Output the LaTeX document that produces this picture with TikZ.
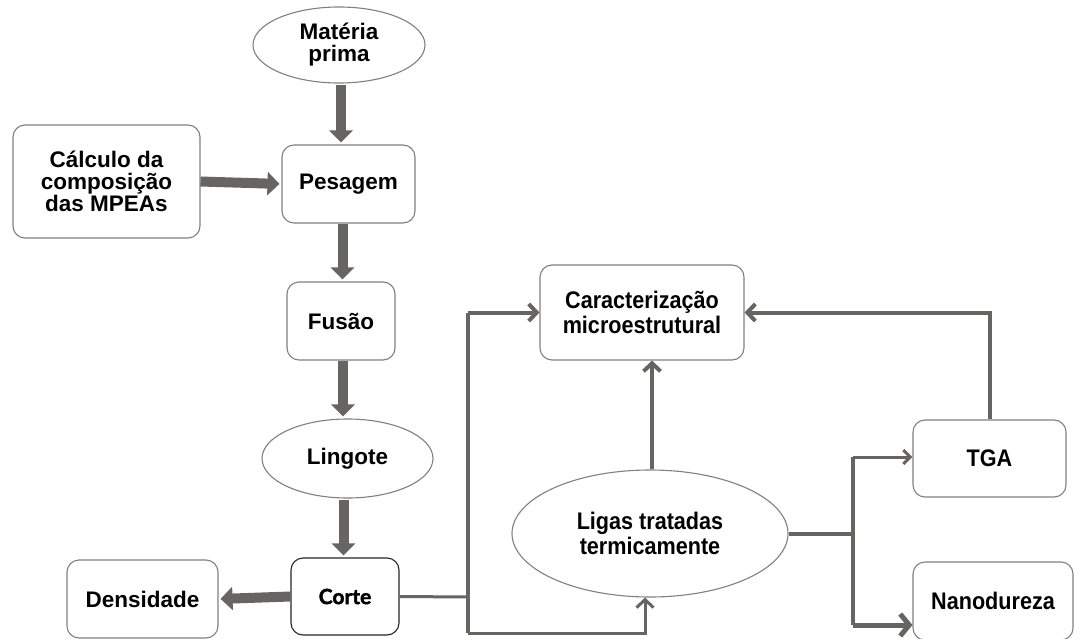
\documentclass[tikz,border=0pt]{standalone}
\usepackage{fontspec}
\setmainfont{Liberation Sans}
\newfontfamily\narrowfont{Liberation Sans}[FakeStretch=0.9]
\newfontfamily\cortefont{Lato}[BoldFeatures={FakeBold=2}]
\usetikzlibrary{arrows.meta,shapes.geometric,calc}
\definecolor{arr}{RGB}{103,100,100}
\definecolor{bord}{RGB}{128,128,128}
\tikzset{
  box/.style={draw=bord, line width=1.1pt, rounded corners=12pt, fill=white, align=center,
    inner sep=0pt, font=\fontsize{22.5}{22}\selectfont\bfseries},
  oval/.style={ellipse, draw=bord, line width=1.1pt, fill=white, align=center, inner sep=0pt,
    font=\fontsize{22.5}{22}\selectfont\bfseries},
  narrowtxt/.style={font=\narrowfont\fontsize{24}{25}\selectfont\bfseries},
  blockarrow/.style={draw=arr, line width=10pt, -{Triangle[width=23pt,length=12pt]}, fill=arr, shorten >=2pt},
  conn/.style={draw=arr, line width=3.5pt},
  barb/.style={draw=arr, line width=#1, -{Straight Barb[length=8pt,width=17pt]}},
  barb/.default=4pt
}
\begin{document}
\begin{tikzpicture}[x=1pt,y=-1pt]
\useasboundingbox (0,0) rectangle (1075,639);
\fill[white] (0,0) rectangle (1075,639);
% nodes
\node[oval, minimum width=172pt, minimum height=76pt] (mat) at (339,45) {Matéria\\prima};
\node[box, minimum width=187pt, minimum height=113pt] (calc) at (106.5,181.5) {Cálculo da\\composição\\das MPEAs};
\node[box, minimum width=133pt, minimum height=78pt] (pes) at (348.5,184) {Pesagem};
\node[box, minimum width=108pt, minimum height=78pt] (fus) at (341,321) {Fusão};
\node[oval, minimum width=171pt, minimum height=79pt] (lin) at (347.5,458.5) {Lingote};
\node[box, draw=black!85, minimum width=108pt, minimum height=77pt, font=\cortefont\fontsize{21}{22}\selectfont\bfseries] (cor) at (345,596.5) {Corte};
\node[box, minimum width=151pt, minimum height=78pt] (den) at (142.5,599) {Densidade};
\node[box, narrowtxt, minimum width=204pt, minimum height=95pt] (car) at (642,312.5) {Caracterização\\microestrutural};
\node[oval, narrowtxt, minimum width=276pt, minimum height=127pt] (lig) at (650,533.5) {Ligas tratadas\\termicamente};
\node[box, narrowtxt, minimum width=153pt, minimum height=77pt] (tga) at (989.5,458.5) {TGA};
\node[box, narrowtxt, minimum width=160pt, minimum height=78pt] (nan) at (993,601) {Nanodureza};
% arrow start points
\path (mat.south) ++(2,1) coordinate (a1);
\path (pes.south) ++(-6,0) coordinate (a2);
\path (fus.south) ++(2,0) coordinate (a3);
\path (lin.south) ++(-4,1) coordinate (a4);
% block arrows
\draw[blockarrow] (a1) -- (a1 |- pes.north);
\draw[blockarrow] (calc.east) -- (pes.west);
\draw[blockarrow] (a2) -- (a2 |- fus.north);
\draw[blockarrow] (a3) -- (a3 |- lin.north);
\draw[blockarrow] (a4) -- (a4 |- cor.north);
\draw[blockarrow] (cor.west) -- (den.east);
% connectors from Corte
\coordinate (j1) at (468,597);
\coordinate (j1t) at (468,312.5);
\coordinate (j1b) at (468,633);
\path (lig.south) ++(-5,0) coordinate (ls);
\path (lig.north) ++(2,0) coordinate (ln);
\draw[conn, line width=3pt] (cor.east) -- (j1);
\draw[conn] (j1t) -- (j1b);
\draw[barb] (j1t) -- (car.west);
\draw[barb=3pt] (j1b) -| (ls);
% Ligas to Caracterizacao
\draw[barb] (ln) -- (ln |- car.south);
% TGA to Caracterizacao
\draw[barb] (tga.north) |- (car.east);
% branch from Ligas
\coordinate (j3) at (853,533.5);
\coordinate (j3t) at (853,457);
\coordinate (j3b) at (853,625);
\draw[conn, line width=4pt] (lig.east) -- (j3);
\draw[conn, line width=4pt] (j3t) -- (j3b);
\draw[draw=arr, line width=3pt, -{Straight Barb[length=7pt,width=14pt]}] (j3t) -- (j3t -| tga.west);
\draw[draw=arr, line width=5pt, -{Straight Barb[length=9pt,width=22pt]}] (j3b) -- (j3b -| nan.west);
\end{tikzpicture}
\end{document}
